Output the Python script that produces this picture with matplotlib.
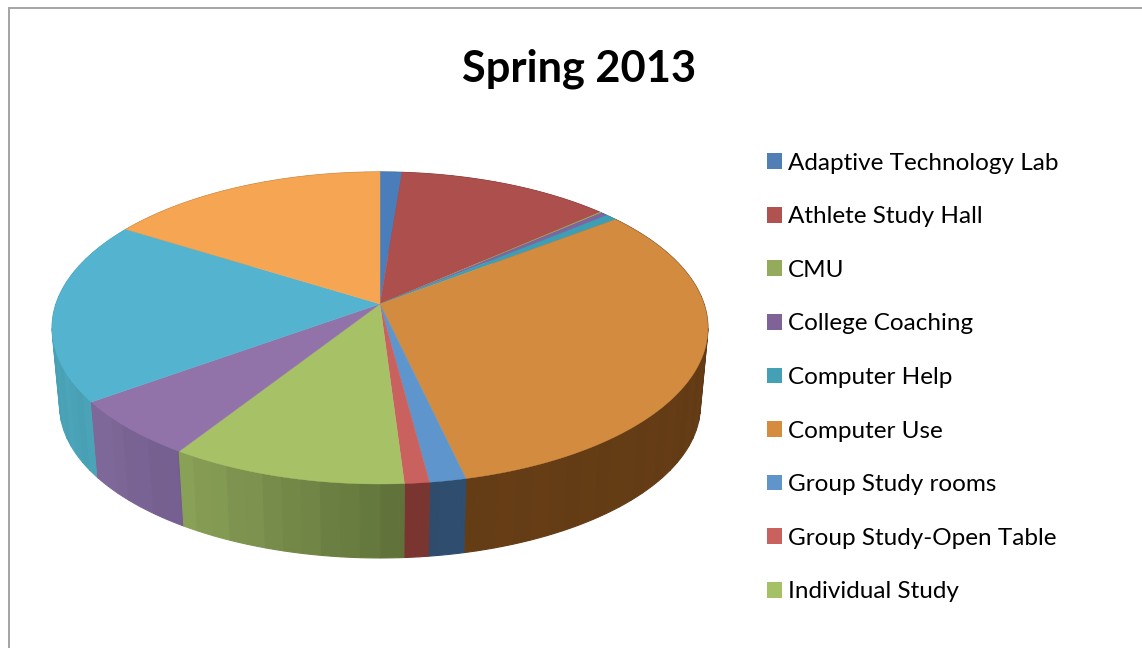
import numpy as np
import matplotlib
matplotlib.use("Agg")
import matplotlib.pyplot as plt
from matplotlib.patches import Patch
from matplotlib.colors import to_rgb

plt.rcParams['font.family'] = ['Lato', 'DejaVu Sans']

W, H = 1142, 648
TITLE = "Spring 2013"
legend_labels = ["Adaptive Technology Lab", "Athlete Study Hall", "CMU", "College Coaching",
                 "Computer Help", "Computer Use", "Group Study rooms",
                 "Group Study-Open Table", "Individual Study"]
# the last three slices have their legend entries cut off in the reference
values = [1.25, 12.2, 0.10, 0.40, 0.67, 31.75, 1.55, 1.05, 10.08, 5.97, 18.85, 16.1]
top_colors = ["#4A7EBB", "#AD4F4D", "#9BBB59", "#8064A2", "#3E9FB4", "#D38B3F",
              "#5E95CC", "#C9615F", "#A7C266", "#9173AA", "#54B4CF", "#F6A552"]
legend_colors = ["#4F7FB4", "#B0524F", "#94AB5C", "#7F6398", "#43A0B5", "#D68C3E",
                 "#5F95CB", "#C9615F", "#A5C165"]
side_start = ["#37577F", "#7A3530", "#6E8040", "#5C4A78", "#307688", "#613916",
              "#2F4D6E", "#7A3530", "#5F7139", "#735E8E", "#4AA2B7", "#B07A3A"]
side_end = ["#37577F", "#7A3530", "#6E8040", "#5C4A78", "#307688", "#653D15",
            "#2F4D6E", "#7A3530", "#8BA258", "#806A9B", "#4AA2B7", "#B07A3A"]
band_pattern = [0.0, 0.01, -0.008, 0.008, -0.01]
band_deg = 3.0

# projection of the pie disc, in pixel units of the figure-wide axes
cx, cy, a, b, k = 380.0, 304.0, 324.0, 152.3, 0.1538
drop, y_vanish = 0.977, 3700.0


def project_top(theta):
    u, v = np.sin(theta), np.cos(theta)
    w = 1 + k * v
    return cx + a * u / w, cy - b * v / w


def project_bottom(theta):
    x, y = project_top(theta)
    return cx + drop * (x - cx), y_vanish + drop * (y - y_vanish)


fig = plt.figure(figsize=(W / 100, H / 100), dpi=100)
ax = fig.add_axes([0, 0, 1, 1])
ax.set_xlim(0, W)
ax.set_ylim(H, 0)
ax.axis("off")

# frame
ax.plot([9, 9, W], [H, 8, 8], color="#A6A6A6", lw=1.44, solid_joinstyle="miter")

edges = 2 * np.pi * np.concatenate([[0], np.cumsum(values)]) / np.sum(values)

# side wall, band by band, back to front
strips = []
step = np.radians(band_deg)
for i in range(len(values)):
    s0, s1 = edges[i], edges[i + 1]
    inner = np.arange(np.ceil(s0 / step), np.floor(s1 / step) + 1) * step
    cuts = np.unique(np.r_[s0, inner, s1])
    c0, c1 = np.array(to_rgb(side_start[i])), np.array(to_rgb(side_end[i]))
    for t0, t1 in zip(cuts[:-1], cuts[1:]):
        mid = 0.5 * (t0 + t1)
        frac = (mid - s0) / (s1 - s0)
        band = band_pattern[int(mid / step) % len(band_pattern)]
        col = np.clip((c0 + (c1 - c0) * frac) * (1 + band), 0, 1)
        strips.append((np.cos(mid), t0, t1, col))
for _, t0, t1, col in sorted(strips, key=lambda q: -q[0]):
    tt = np.linspace(t0, t1, 8)
    xa, ya = project_top(tt)
    xb, yb = project_bottom(tt[::-1])
    ax.fill(np.r_[xa, xb], np.r_[ya, yb], color=col, lw=0.8, zorder=2)

# top face
for i in range(len(values)):
    t = np.linspace(edges[i], edges[i + 1], max(3, int(np.degrees(edges[i + 1] - edges[i]) * 2)))
    x, y = project_top(t)
    ax.fill(np.r_[cx, x], np.r_[cy, y], color=top_colors[i], lw=0.3, zorder=3)

fig.suptitle(TITLE, x=579 / W, y=1 - 69 / H, va="center", ha="center",
             fontsize=31.2, fontweight="bold", color="black")

handles = [Patch(facecolor=c, edgecolor="none", label=l) for c, l in zip(legend_colors, legend_labels)]
ax.legend(handles=handles, loc="upper left", bbox_to_anchor=(757 / W, 1 - 143 / H),
          bbox_transform=fig.transFigure, frameon=False, fontsize=17.5, labelcolor="black",
          labelspacing=1.34, handlelength=0.62, handleheight=0.62, handletextpad=0.26,
          borderpad=0.4, borderaxespad=0)

fig.savefig("out.png", dpi=100)
